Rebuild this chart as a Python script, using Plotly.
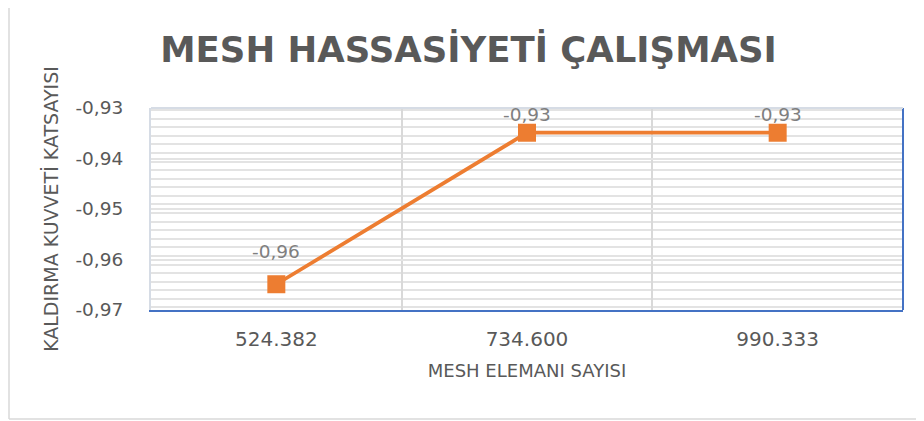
import plotly.graph_objects as go

# ---- data ----
categories = ["524.382", "734.600", "990.333"]
lift_coeff = [-0.9649, -0.9349, -0.9349]
y_ticks = [-0.97, -0.96, -0.95, -0.94, -0.93]

title_text = "MESH HASSASİYETİ ÇALIŞMASI"
x_title = "MESH ELEMANI SAYISI"
y_title = "KALDIRMA KUVVETİ KATSAYISI"

# label offsets in px (style only)
label_shift = [33, 18, 18]


def fmt(v):
    return f"{v:.2f}".replace(".", ",")


TXT = "#595959"
ORANGE = "#ED7D31"

# page body has an 8px margin: figure is placed at (8, 8)
W, H = 916, 413
L, T, PW, PH = 143, 100, 752, 202

fig = go.Figure()
fig.add_trace(go.Scatter(
    x=categories, y=lift_coeff, mode="lines+markers",
    line=dict(color=ORANGE, width=3.75),
    marker=dict(symbol="square", size=18, color=ORANGE),
    hoverinfo="skip", showlegend=False,
))

for i, (v, s) in enumerate(zip(lift_coeff, label_shift)):
    fig.add_annotation(
        x=i, y=v, text=fmt(v), showarrow=False,
        yshift=s, font=dict(family="DejaVu Sans", size=18.5, color="#7f7f7f"),
    )

fig.update_layout(
    width=W, height=H, autosize=False,
    margin=dict(l=L, r=W - L - PW, t=T, b=H - T - PH),
    paper_bgcolor="white", plot_bgcolor="white",
    title=dict(
        text=title_text, x=460.5 / W, xanchor="center", xref="container",
        y=1 - 42 / H, yanchor="middle", yref="container",
        font=dict(family="DejaVu Sans", size=35.5, color=TXT, weight="bold"),
    ),
    xaxis=dict(
        type="category", categoryorder="array", categoryarray=categories,
        tickson="boundaries", showgrid=True, gridcolor="#d9d9d9", gridwidth=1.5,
        showline=True, linecolor="#4472C4", linewidth=2,
        ticks="", range=[-0.5, 2.5],
        tickfont=dict(family="DejaVu Sans", size=20, color=TXT),
        ticklabelstandoff=10,
        title=dict(text=x_title, standoff=14,
                   font=dict(family="DejaVu Sans", size=18, color=TXT)),
        zeroline=False,
    ),
    yaxis=dict(
        range=[-0.97, -0.93], tickvals=y_ticks, ticktext=[fmt(v) for v in y_ticks],
        showgrid=True, gridcolor="#e3e3e3", gridwidth=1.5,
        showline=True, linecolor="#d6dce5", linewidth=2,
        ticks="", ticklabelstandoff=22,
        tickfont=dict(family="DejaVu Sans", size=18.5, color=TXT),
        minor=dict(tick0=-0.9678, dtick=0.0017, showgrid=True,
                   gridcolor="#e3e3e3", gridwidth=1.5),
        title=dict(text=y_title, standoff=12,
                   font=dict(family="DejaVu Sans", size=19, color=TXT)),
        zeroline=False,
    ),
    shapes=[
        dict(type="line", xref="paper", yref="paper", x0=1, x1=1, y0=0, y1=1,
             line=dict(color="#4472C4", width=2)),
        dict(type="line", xref="paper", yref="paper", x0=0, x1=1, y0=1, y1=1,
             line=dict(color="#d6dce5", width=2)),
        dict(type="line", xref="paper", yref="paper",
             x0=(1 - L) / PW, x1=(1 - L) / PW,
             y0=-(H - 2 - T - PH) / PH, y1=(T + PH) / PH,
             line=dict(color="#d9d9d9", width=1.5)),
        dict(type="line", xref="paper", yref="paper",
             x0=(1 - L) / PW, x1=(W - L) / PW,
             y0=-(H - 2 - T - PH) / PH, y1=-(H - 2 - T - PH) / PH,
             line=dict(color="#d9d9d9", width=1.5)),
    ],
)

fig.write_html("out.html")
